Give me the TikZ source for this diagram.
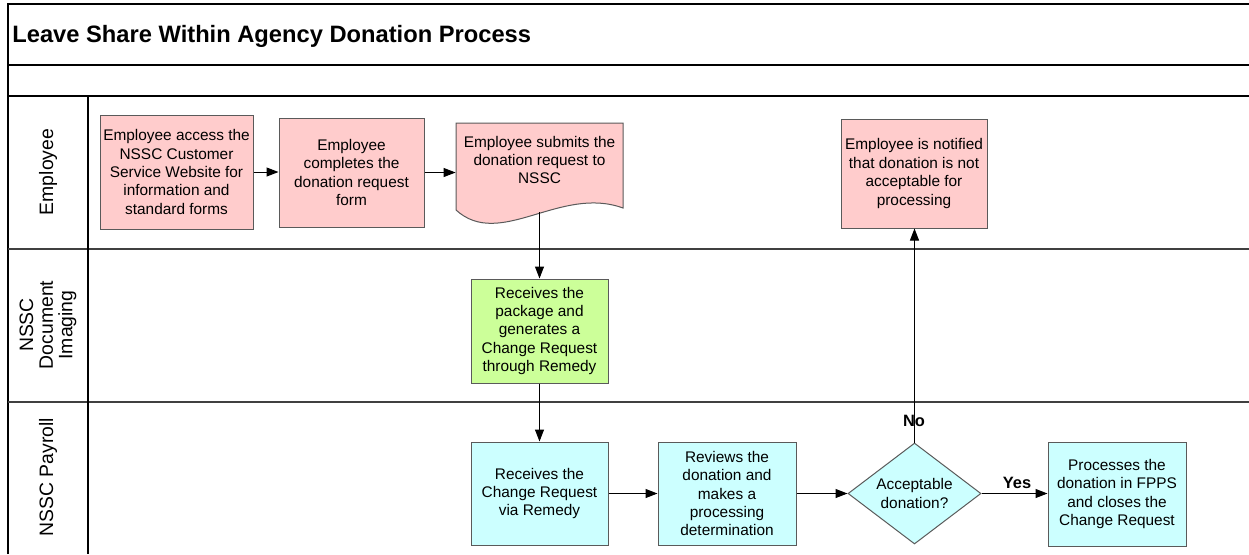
\documentclass[tikz,border=0pt]{standalone}
\usepackage{fontspec}
\setmainfont{Liberation Sans}
\usetikzlibrary{arrows.meta,shapes.geometric}
\definecolor{pinkf}{HTML}{FFCCCC}
\definecolor{greenf}{HTML}{CCFF99}
\definecolor{bluef}{HTML}{CCFFFF}
\definecolor{bordercol}{HTML}{5A5A5A}
\definecolor{lanecol}{HTML}{404040}
\newcommand\bxfont{\fontsize{7.7}{9.2}\selectfont}
\begin{document}
\begin{tikzpicture}[x=0.5pt,y=-0.5pt,
  box/.style={draw=bordercol, line width=0.5pt, align=center, inner sep=0pt, font=\bxfont},
  pinkbox/.style={box, fill=pinkf},
  greenbox/.style={box, fill=greenf},
  bluebox/.style={box, fill=bluef},
  arr/.style={-{Triangle[length=6pt,width=4.5pt]}, line width=0.5pt, black},
  lane/.style={draw=lanecol, line width=1pt},
  thinlane/.style={draw=black, line width=0.7pt},
  lanelabel/.style={rotate=90, align=center, font=\fontsize{9.7}{9.8}\selectfont},
  yn/.style={font=\fontsize{8.2}{9}\selectfont\bfseries, inner sep=0pt}
]
\useasboundingbox (0,0) rectangle (1249,554);
% frame
\draw[thinlane] (8,554) -- (8,4) -- (1249,4);
\draw[thinlane] (8,65) -- (1249,65);
\draw[thinlane] (8,96) -- (1249,96);
\draw[lane] (8,249) -- (1249,249);
\draw[lane] (8,402) -- (1249,402);
\draw[thinlane] (88,96) -- (88,554);
\node[anchor=west, font=\fontsize{11.85}{13}\selectfont\bfseries, inner sep=0pt] (title) at (12,36) {Leave Share Within Agency Donation Process};
% lane labels
\node[lanelabel] (l1) at (48,172) {Employee};
\node[lanelabel] (l2) at (48,325) {NSSC\\Document\\Imaging};
\node[lanelabel] (l3) at (48,477) {NSSC Payroll};
% employee lane
\node[pinkbox, minimum width=76.5pt, minimum height=57pt] (b1) at (176.5,172) {Employee access the\\NSSC Customer\\Service Website for\\information and\\standard forms};
\node[pinkbox, minimum width=72.5pt, minimum height=54.5pt] (b2) at (351.5,172.5) {Employee\\completes the\\donation request\\form};
\node[minimum width=83.5pt, minimum height=43.5pt, inner sep=0pt] (doc) at (539.5,166.5) {};
\fill[pinkf] (456,123) -- (623,123) -- (623,208) .. controls (560,185) and (500,250) .. (456,210) -- cycle;
\draw[draw=bordercol, line width=0.5pt] (456,123) -- (623,123) -- (623,208) .. controls (560,185) and (500,250) .. (456,210) -- cycle;
\node[align=center, font=\bxfont, inner sep=0pt] (doctext) at (539.5,160) {Employee submits the\\donation request to\\NSSC};
\coordinate (docout) at (539.5,212);
\node[pinkbox, minimum width=73pt, minimum height=54.5pt] (red) at (914,173.5) {Employee is notified\\that donation is not\\acceptable for\\processing};
% imaging lane
\node[greenbox, minimum width=68.5pt, minimum height=52pt] (g) at (539.5,331) {Receives the\\package and\\generates a\\Change Request\\through Remedy};
% payroll lane
\node[bluebox, minimum width=68.5pt, minimum height=51.5pt] (p1) at (539.5,493.5) {Receives the\\Change Request\\via Remedy};
\node[bluebox, minimum width=69pt, minimum height=51.5pt] (p2) at (727,493.5) {Reviews the\\donation and\\makes a\\processing\\determination};
\node[box, fill=bluef, diamond, shape aspect=1.3, minimum width=66.5pt, minimum height=50.5pt] (d) at (914.5,493.5) {Acceptable\\donation?};
\node[bluebox, minimum width=69pt, minimum height=52pt] (p3) at (1117,494) {Processes the\\donation in FPPS\\and closes the\\Change Request};
% connectors
\draw[arr] (b1.east) -- (b1.east -| b2.west);
\draw[arr] (b2.east) -- (b2.east -| doc.west);
\draw[arr] (docout) -- (docout |- g.north);
\draw[arr] (g.south) -- (p1.north);
\draw[arr] (p1.east) -- (p1.east -| p2.west);
\draw[arr] (p2.east) -- (d.west);
\draw[arr] (d.north) -- (d.north |- red.south);
\draw[arr] (d.east) -- (d.east -| p3.west);
\node[yn] (no) at (914,421) {No};
\node[yn] (yes) at (1017,483) {Yes};
\end{tikzpicture}
\end{document}
